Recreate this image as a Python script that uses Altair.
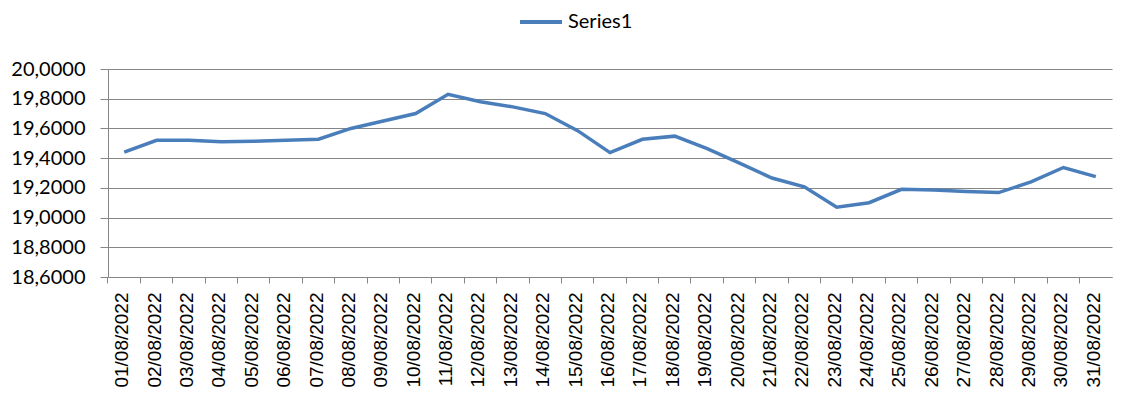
import altair as alt
import pandas as pd

dates = ["01/08/2022", "02/08/2022", "03/08/2022", "04/08/2022", "05/08/2022",
         "06/08/2022", "07/08/2022", "08/08/2022", "09/08/2022", "10/08/2022",
         "11/08/2022", "12/08/2022", "13/08/2022", "14/08/2022", "15/08/2022",
         "16/08/2022", "17/08/2022", "18/08/2022", "19/08/2022", "20/08/2022",
         "21/08/2022", "22/08/2022", "23/08/2022", "24/08/2022", "25/08/2022",
         "26/08/2022", "27/08/2022", "28/08/2022", "29/08/2022", "30/08/2022",
         "31/08/2022"]
values = [19.44, 19.52, 19.52, 19.51, 19.514, 19.52, 19.527, 19.60, 19.65, 19.70,
          19.83, 19.78, 19.745, 19.70, 19.585, 19.437, 19.527, 19.548, 19.464, 19.366,
          19.266, 19.207, 19.07, 19.10, 19.19, 19.185, 19.175, 19.168, 19.24, 19.337,
          19.276]
series_name = "Series1"
y_ticks = [18.6, 18.8, 19.0, 19.2, 19.4, 19.6, 19.8, 20.0]

df = pd.DataFrame({"date": dates, "value": values, "series": [series_name] * len(dates)})

grey = "#868686"

chart = alt.Chart(df).mark_line(strokeWidth=3.5).encode(
    x=alt.X("date:N", sort=None,
            scale=alt.Scale(type="band", paddingInner=0, paddingOuter=0, range=[0, 1004]),
            axis=alt.Axis(title=None, labelAngle=270, labelAlign="right", labelBaseline="middle",
                          bandPosition=0, labelOffset=-2, tickSize=6, labelPadding=9,
                          grid=False, labelFont="Liberation Sans", labelFontSize=19,
                          labelColor="#000000", domainColor=grey, tickColor=grey,
                          labelOverlap=False)),
    y=alt.Y("value:Q",
            scale=alt.Scale(domain=[18.6, 20.0], nice=False, zero=False),
            axis=alt.Axis(title=None, values=y_ticks,
                          labelExpr="replace(format(datum.value, '.4f'), '.', ',')",
                          tickSize=8, labelPadding=15, grid=True, gridColor=grey,
                          domainColor=grey, tickColor=grey, labelFont="Lato",
                          labelFontSize=20, labelColor="#000000")),
    color=alt.Color("series:N", scale=alt.Scale(range=["#4A7EBB"]),
                    legend=alt.Legend(title=None, orient="none", legendX=410, legendY=-70,
                                      symbolType="stroke", symbolSize=1764,
                                      symbolStrokeWidth=4, labelFont="Lato",
                                      labelFontSize=20, labelColor="#000000",
                                      padding=0, labelOffset=4)),
).properties(
    width=1006, height=208,
    padding={"left": 100, "top": 61, "right": 0, "bottom": 123},
    autosize=alt.AutoSizeParams(type="none"),
).configure_view(stroke=None)

chart.save("out.html", embed_options={"renderer": "svg", "actions": False})
